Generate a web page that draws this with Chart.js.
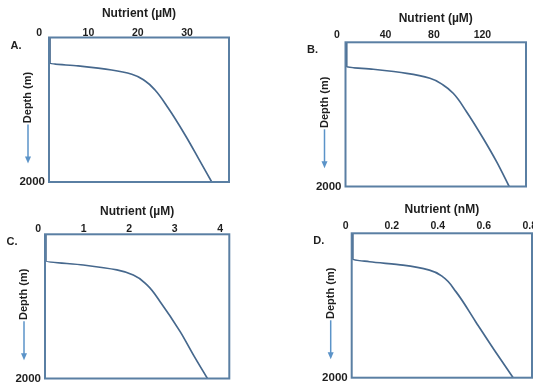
<!DOCTYPE html>
<html>
<head>
<meta charset="utf-8">
<script src="https://cdn.jsdelivr.net/npm/chart.js@4"></script>
<style>
  html, body { margin: 0; padding: 0; background: #fff; }
  #wrap { position: relative; width: 533px; height: 383px; overflow: hidden; }
  canvas { position: absolute; }
</style>
</head>
<body>
<div id="wrap">
  <canvas id="panel-a" width="266" height="192" style="left:0;top:0"></canvas>
  <canvas id="panel-b" width="267" height="192" style="left:266px;top:0"></canvas>
  <canvas id="panel-c" width="266" height="191" style="left:0;top:192px"></canvas>
  <canvas id="panel-d" width="267" height="191" style="left:266px;top:192px"></canvas>
</div>
<script>
// ---- values: nutrient vs depth (m) ----
const depthTicks = [2000];

const aNutrient = [2.2, 2.2, 7.9, 14.7, 18.8, 21.5, 23.5, 26.2, 29.6, 32.3, 35.0];
const aDepth    = [0, 357, 394, 450, 509, 602, 727, 980, 1349, 1672, 2000];
const aTicks    = [0, 10, 20, 30];

const bNutrient = [8.0, 8.0, 29.9, 57.5, 76.7, 87.6, 95.9, 106.9, 120.6, 131.7, 142.1];
const bDepth    = [0, 338, 374, 430, 499, 592, 707, 963, 1331, 1656, 2000];
const bTicks    = [0, 40, 80, 120];

const cNutrient = [0.17, 0.17, 0.99, 1.73, 2.09, 2.39, 2.68, 3.12, 3.41, 3.72];
const cDepth    = [0, 370, 426, 494, 564, 702, 934, 1350, 1672, 2000];
const cTicks    = [0, 1, 2, 3, 4];

const dNutrient = [0.031, 0.031, 0.104, 0.249, 0.364, 0.421, 0.479, 0.565, 0.651, 0.728];
const dDepth    = [0, 360, 394, 440, 510, 600, 808, 1224, 1640, 2000];
const dTicks    = [0, 0.2, 0.4, 0.6, 0.8];

// ---- styles ----
const textColor  = '#1e1e1e';
const frameColor = '#5a7fa3';
const curveColor = '#46688d';
const arrowColor = '#5b93c8';
const fontFamily = "'Liberation Sans', Arial, sans-serif";
const xTickFont  = { family: fontFamily, size: 10.5, weight: 'bold' };
const yTickFont  = { family: fontFamily, size: 11.5, weight: 'bold' };
const titleFont  = { family: fontFamily, size: 12, weight: 'bold' };

// frame, panel letter and the "Depth (m)" label with its arrow
const panelDecor = {
  id: 'panelDecor',
  afterDatasetsDraw(chart, args, opts) {
    const { ctx, chartArea: a } = chart;
    ctx.save();
    ctx.strokeStyle = frameColor;
    ctx.lineWidth = 2;
    ctx.strokeRect(a.left, a.top, a.right - a.left, a.bottom - a.top);

    ctx.fillStyle = textColor;
    ctx.font = 'bold 11px ' + fontFamily;
    ctx.textAlign = 'center';
    ctx.textBaseline = 'middle';
    ctx.fillText(opts.letter, a.left - 33, a.top + 8);

    const x = a.left - 21;
    ctx.save();
    ctx.translate(x, a.top + 60);
    ctx.rotate(-Math.PI / 2);
    ctx.fillText('Depth (m)', 0, 0);
    ctx.restore();

    ctx.strokeStyle = arrowColor;
    ctx.fillStyle = arrowColor;
    ctx.lineWidth = 1.5;
    ctx.beginPath();
    ctx.moveTo(x, a.top + 87);
    ctx.lineTo(x, a.top + 120);
    ctx.stroke();
    ctx.beginPath();
    ctx.moveTo(x - 3, a.top + 119);
    ctx.lineTo(x + 3, a.top + 119);
    ctx.lineTo(x, a.top + 126);
    ctx.closePath();
    ctx.fill();
    ctx.restore();
  }
};

function renderDepthProfile(canvasId, p) {
  const el = document.getElementById(canvasId);
  const W = el.width, H = el.height;
  new Chart(el.getContext('2d'), {
    type: 'line',
    data: {
      datasets: [{
        data: p.nutrient.map((v, i) => ({ x: v, y: p.depth[i] })),
        borderColor: curveColor,
        borderWidth: 1.7,
        pointRadius: 0,
        cubicInterpolationMode: 'monotone',
        fill: false
      }]
    },
    options: {
      indexAxis: 'y',
      responsive: false,
      animation: false,
      events: [],
      layout: { padding: { left: 0, top: 0, right: W - p.box.right, bottom: H - p.box.bottom } },
      plugins: {
        legend: { display: false },
        tooltip: { enabled: false },
        panelDecor: { letter: p.letter }
      },
      scales: {
        x: {
          type: 'linear',
          position: 'top',
          min: p.xMin,
          max: p.xMax,
          grid: { display: false, drawTicks: false },
          border: { display: false },
          ticks: { autoSkip: false, maxRotation: 0, padding: p.tickPad, color: textColor, font: xTickFont, callback: v => String(v) },
          title: { display: true, text: p.title, color: textColor, font: titleFont, padding: { top: p.titlePad, bottom: 0 } },
          afterBuildTicks: s => { s.ticks = p.ticks.map(v => ({ value: v })); },
          afterFit: s => { s.height = p.box.top; s.paddingLeft = 0; s.paddingRight = 0; }
        },
        y: {
          type: 'linear',
          position: 'left',
          reverse: true,
          min: 0,
          max: 2000,
          grid: { display: false, drawTicks: false },
          border: { display: false },
          ticks: { autoSkip: false, padding: 4, color: textColor, font: yTickFont, callback: v => String(v) },
          afterBuildTicks: s => { s.ticks = depthTicks.map(v => ({ value: v })); },
          afterFit: s => { s.width = p.box.left; s.paddingTop = 0; s.paddingBottom = 0; }
        }
      }
    },
    plugins: [panelDecor]
  });
}

renderDepthProfile('panel-a', {
  letter: 'A.', title: 'Nutrient (\u00b5M)', nutrient: aNutrient, depth: aDepth, ticks: aTicks,
  xMin: 2, xMax: 38.5, box: { left: 49, top: 37.5, right: 229, bottom: 182 }, titlePad: 6.8, tickPad: -2
});
renderDepthProfile('panel-b', {
  letter: 'B.', title: 'Nutrient (\u00b5M)', nutrient: bNutrient, depth: bDepth, ticks: bTicks,
  xMin: 7, xMax: 156, box: { left: 79.5, top: 42.3, right: 260, bottom: 186.5 }, titlePad: 11.8, tickPad: 1
});
renderDepthProfile('panel-c', {
  letter: 'C.', title: 'Nutrient (\u00b5M)', nutrient: cNutrient, depth: cDepth, ticks: cTicks,
  xMin: 0.15, xMax: 4.2, box: { left: 45, top: 42.3, right: 229.3, bottom: 186.5 }, titlePad: 12.8, tickPad: -1.6
});
renderDepthProfile('panel-d', {
  letter: 'D.', title: 'Nutrient (nM)', nutrient: dNutrient, depth: dDepth, ticks: dTicks,
  xMin: 0.026, xMax: 0.81, box: { left: 85.7, top: 41.3, right: 266, bottom: 185.7 }, titlePad: 10.8, tickPad: 1
});
</script>
</body>
</html>
